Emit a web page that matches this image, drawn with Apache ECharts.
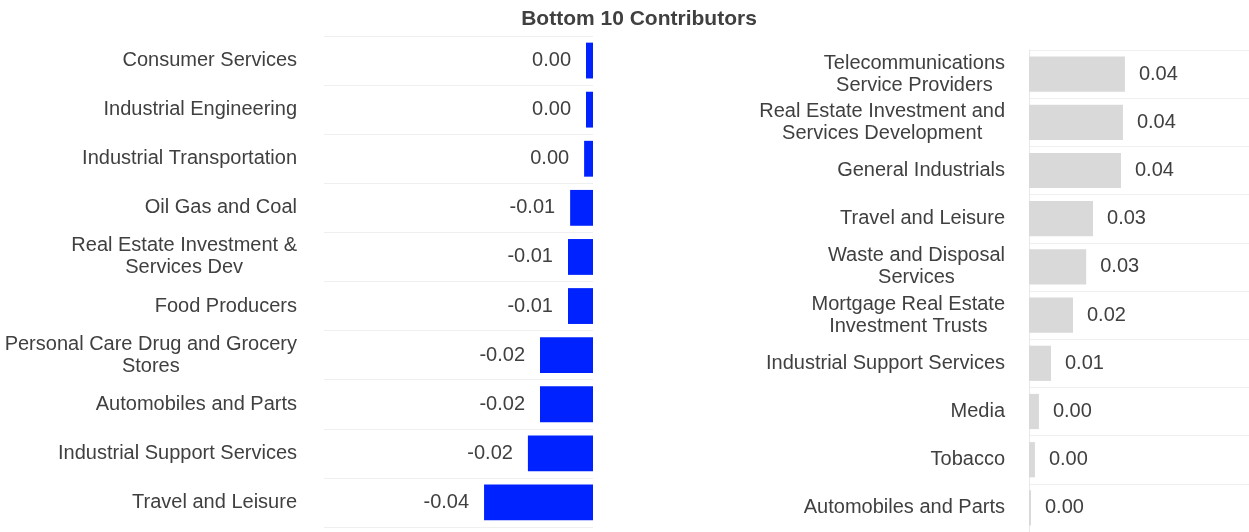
<!DOCTYPE html>
<html>
<head>
<meta charset="utf-8">
<script src="https://cdn.jsdelivr.net/npm/echarts@6/dist/echarts.min.js"></script>
<style>
  html, body { margin: 0; padding: 0; background: #fff; }
  #chart { width: 1249px; height: 532px; }
</style>
</head>
<body>
<div id="chart"></div>
<script>
// bottom contributors (top to bottom as shown)
var bottomNames = [
  "Consumer Services",
  "Industrial Engineering",
  "Industrial Transportation",
  "Oil Gas and Coal",
  "Real Estate Investment &\nServices Dev",
  "Food Producers",
  "Personal Care Drug and Grocery\nStores",
  "Automobiles and Parts",
  "Industrial Support Services",
  "Travel and Leisure"
];
var bottomValues = [-0.0026, -0.0026, -0.0033, -0.0085, -0.0093, -0.0093, -0.0197, -0.0197, -0.0242, -0.0405];

// top contributors
var topNames = [
  "Telecommunications\nService Providers",
  "Real Estate Investment and\nServices Development",
  "General Industrials",
  "Travel and Leisure",
  "Waste and Disposal\nServices",
  "Mortgage Real Estate\nInvestment Trusts",
  "Industrial Support Services",
  "Media",
  "Tobacco",
  "Automobiles and Parts"
];
var topValues = [0.0436, 0.0427, 0.0418, 0.0291, 0.026, 0.02, 0.01, 0.0045, 0.0027, 0.0009];

var textColor = "#404040";
var font = "Liberation Sans, Arial, sans-serif";

function fmtValue(p) {
  var s = p.value.toFixed(2);
  if (s === "-0.00") s = "0.00";
  return s;
}
function fmtCat(v) {
  return v.split("\n").map(function (s) { return "{c|" + s + "}"; }).join("\n");
}
var catLabel = {
  color: textColor,
  align: "right",
  formatter: fmtCat,
  rich: {
    c: { align: "center", fontSize: 20, lineHeight: 22, color: textColor, fontFamily: font }
  }
};

var chart = echarts.init(document.getElementById("chart"));
chart.setOption({
  animation: false,
  textStyle: { fontFamily: font },
  title: {
    text: "Bottom 10 Contributors",
    left: 634,
    textAlign: "center",
    top: 4,
    textStyle: { fontSize: 21, fontWeight: "bold", color: textColor, fontFamily: font }
  },
  grid: [
    { left: 324, right: 656, top: 36, height: 491 },
    { left: 1029, right: 0, top: 50, height: 485 }
  ],
  xAxis: [
    { gridIndex: 0, type: "value", min: -0.1, max: 0, show: false },
    { gridIndex: 1, type: "value", min: 0, max: 0.1, show: false }
  ],
  yAxis: [
    {
      gridIndex: 0, type: "category", inverse: true, data: bottomNames,
      axisLine: { show: false }, axisTick: { show: false },
      axisLabel: Object.assign({ margin: 27 }, catLabel),
      splitLine: { show: true, lineStyle: { color: "#efefef", width: 1 } }
    },
    {
      gridIndex: 1, type: "category", inverse: true, data: topNames,
      axisLine: { show: true, lineStyle: { color: "#e8e8e8" } }, axisTick: { show: false },
      axisLabel: Object.assign({ margin: 24 }, catLabel),
      splitLine: { show: true, lineStyle: { color: "#efefef", width: 1 } }
    }
  ],
  series: [
    {
      type: "bar", xAxisIndex: 0, yAxisIndex: 0, data: bottomValues,
      barWidth: "73%",
      itemStyle: { color: "#0022ff" },
      label: { show: true, position: "left", distance: 15, formatter: fmtValue, fontSize: 20, color: textColor, fontFamily: font }
    },
    {
      type: "bar", xAxisIndex: 1, yAxisIndex: 1, data: topValues,
      barWidth: "73%",
      itemStyle: { color: "#d9d9d9" },
      label: { show: true, position: "right", distance: 14, formatter: fmtValue, fontSize: 20, color: textColor, fontFamily: font }
    }
  ]
});
</script>
</body>
</html>
